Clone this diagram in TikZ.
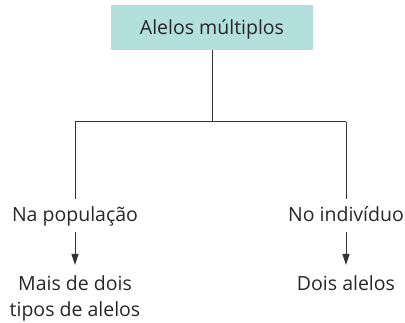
\documentclass[tikz,border=0pt]{standalone}
\usepackage{fontspec}
\setmainfont{Open Sans}
\usetikzlibrary{arrows.meta}
\definecolor{boxfill}{HTML}{B3E0DC}
\definecolor{linegray}{HTML}{333333}
\begin{document}
\begin{tikzpicture}[x=1pt,y=1pt,
    txt/.style={font=\fontsize{19.5}{26}\selectfont, text=black!85, inner xsep=0pt},
    head/.style={txt, fill=boxfill, minimum width=202pt, minimum height=45pt,
      text height=16pt, text depth=1pt},
    lbl/.style={txt, text height=16pt, text depth=3pt, inner ysep=7pt, anchor=base},
    res/.style={txt, align=center, inner ysep=10pt, anchor=north},
    link/.style={draw=linegray, line width=1pt},
    arr/.style={link, -{Triangle[length=11pt,width=7pt]}}]
    \useasboundingbox (0,0) rectangle (405,323);

    % caixa do topo
    \node[head] (alelos) at (212,295.5) {Alelos múltiplos};

    % ramos
    \coordinate (J) at (212,201);
    \coordinate (LJ) at (75,201);
    \coordinate (RJ) at (346,201);

    \node[lbl] (pop) at (75,101) {Na população};
    \node[lbl] (ind) at (346,101) {No indivíduo};

    \node[res] (mais) at (75,58) {Mais de dois\\tipos de alelos};
    \node[res] (dois) at (346,58) {Dois alelos};

    \draw[link] (alelos.south) -- (J);
    \draw[link] (LJ) -- (RJ);
    \draw[link] (LJ) -- (pop.north);
    \draw[link] (RJ) -- (ind.north);

    \draw[arr] (pop.south) -- (mais.north);
    \draw[arr] (ind.south) -- (dois.north);
  \end{tikzpicture}
\end{document}
